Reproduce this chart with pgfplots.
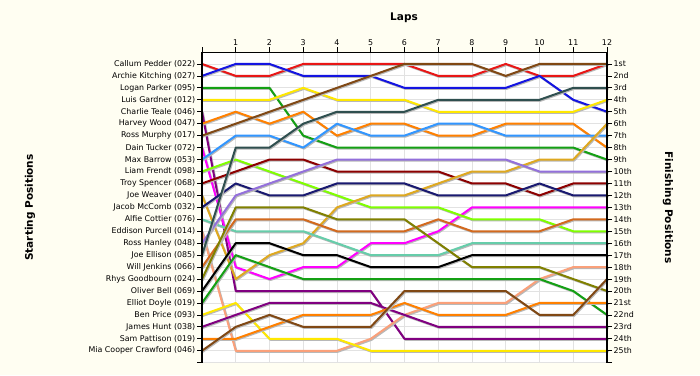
\documentclass[border=0pt]{standalone}
\usepackage{fontspec}
\setmainfont{DejaVu Sans}
\usepackage{pgfplots}
\pgfplotsset{compat=1.18}
\usepackage{pgfplotstable}

\definecolor{bgcream}{RGB}{255,254,242}
\definecolor{gridc}{RGB}{226,226,226}
\definecolor{cRed}{RGB}{232,22,22}
\definecolor{cBlue}{RGB}{20,20,225}
\definecolor{cGreen}{RGB}{20,160,20}
\definecolor{cYellow}{RGB}{255,232,0}
\definecolor{cPurple}{RGB}{128,0,128}
\definecolor{cOrange}{RGB}{255,128,0}
\definecolor{cBrown}{RGB}{128,72,20}
\definecolor{cMagenta}{RGB}{255,0,255}
\definecolor{cLBlue}{RGB}{50,150,255}
\definecolor{cLime}{RGB}{128,255,0}
\definecolor{cDRed}{RGB}{140,0,0}
\definecolor{cGold}{RGB}{222,168,32}
\definecolor{cNavy}{RGB}{25,25,112}
\definecolor{cAqua}{RGB}{102,205,170}
\definecolor{cSalmon}{RGB}{250,160,122}
\definecolor{cLPurple}{RGB}{147,112,219}
\definecolor{cSlate}{RGB}{47,79,79}
\definecolor{cChoc}{RGB}{210,105,30}
\definecolor{cOlive}{RGB}{128,128,0}

% positions per lap (rows) for each driver (columns, in starting order)
\pgfplotstableread{
lap d1 d2 d3 d4 d5 d6 d7 d8 d9 d10 d11 d12 d13 d14 d15 d16 d17 d18 d19 d20 d21 d22 d23 d24 d25
0  1 2 3 4 5  6 7 8  9 10 11 12 13 14 15 16 17 18 19 20 21 22 23 24 25
1  2 1 3 4 20 5 6 18 7 9  10 19 11 15 25 12 8  14 13 16 17 21 22 24 23
2  2 1 3 4 20 6 5 19 7 10 9  17 12 15 25 11 8  14 13 16 18 24 21 23 22
3  1 2 7 3 20 5 4 18 8 11 9  16 12 15 25 10 6  14 13 17 19 24 21 22 23
4  1 2 8 4 20 7 3 18 6 12 10 13 11 16 25 9  5  15 14 17 19 24 21 22 23
5  1 2 8 4 20 6 2 16 7 13 10 12 11 17 24 9  5  15 14 18 19 25 21 22 23
6  1 3 8 4 24 6 1 16 7 13 10 12 11 17 22 9  5  15 14 18 19 25 22 21 20
7  2 3 8 5 24 7 1 15 6 13 10 11 12 17 21 9  4  14 16 18 19 25 23 22 20
8  2 3 8 5 24 7 1 13 6 14 11 10 12 16 21 9  4  15 18 17 19 25 23 22 20
9  1 3 8 5 24 6 2 13 7 14 11 10 12 16 21 9  4  15 18 17 19 25 23 22 20
10 2 2 8 5 24 6 1 13 7 14 12 9  11 16 19 10 4  15 18 17 19 25 23 21 22
11 2 4 8 5 24 6 1 13 7 15 11 9  12 16 18 10 3  14 19 17 20 25 23 21 22
12 1 5 9 4 24 8 1 13 7 15 11 6  12 16 18 10 3  14 20 17 22 25 23 21 19
}\lapdata

\pgfplotsset{
  lapline/.style={line width=2pt, line join=round, line cap=round,
    preaction={draw=black!28, line width=2pt,
      transform canvas={xshift=0.9pt,yshift=-1pt}}},
}

\newcommand{\lblfont}{\fontsize{7.9}{9}\selectfont}
\newcommand{\ttlfont}{\fontsize{10.5}{12}\selectfont\bfseries}

\begin{document}
\begin{tikzpicture}[x=1pt,y=1pt]
\path[use as bounding box] (0,0) rectangle (700,375);
\fill[bgcream] (0,0) rectangle (700,375);
\begin{axis}[
  at={(202pt,12.3pt)}, anchor=south west,
  scale only axis, width=405pt, height=310.7pt,
  xmin=0, xmax=12, ymin=0, ymax=26, y dir=reverse,
  axis background/.style={fill=white},
  axis line style={draw=none},
  xtick={0,...,12}, xticklabels={,1,2,3,4,5,6,7,8,9,10,11,12},
  xtick pos=right, xticklabel pos=right,
  ytick={1,...,25},
  yticklabels={Callum Pedder (022),Archie Kitching (027),Logan Parker (095),Luis Gardner (012),Charlie Teale (046),Harvey Wood (047),Ross Murphy (017),Dain Tucker (072),Max Barrow (053),Liam Frendt (098),Troy Spencer (068),Joe Weaver (040),Jacob McComb (032),Alfie Cottier (076),Eddison Purcell (014),Ross Hanley (048),Joe Ellison (085),Will Jenkins (066),Rhys Goodbourn (024),Oliver Bell (069),Elliot Doyle (019),Ben Price (093),James Hunt (038),Sam Pattison (019),Mia Cooper Crawford (046)},
  extra y ticks={26}, extra y tick labels={},
  ytick pos=left, yticklabel pos=left,
  tick align=outside,
  major tick length=5pt,
  tick style={black, line width=0.8pt},
  xticklabel style={font=\lblfont, inner sep=1pt},
  yticklabel style={font=\lblfont, inner sep=1.5pt},
  grid=major, major grid style={draw=gridc, line width=0.9pt},
  clip=false,
]
\draw[black, line width=0.9pt] (axis cs:0,0) -- (axis cs:12,0);
\addplot[lapline, cRed]     table[x=lap,y=d1]  {\lapdata};
\addplot[lapline, cBlue]    table[x=lap,y=d2]  {\lapdata};
\addplot[lapline, cGreen]   table[x=lap,y=d3]  {\lapdata};
\addplot[lapline, cYellow]  table[x=lap,y=d4]  {\lapdata};
\addplot[lapline, cPurple]  table[x=lap,y=d5]  {\lapdata};
\addplot[lapline, cOrange]  table[x=lap,y=d6]  {\lapdata};
\addplot[lapline, cBrown]   table[x=lap,y=d7]  {\lapdata};
\addplot[lapline, cMagenta] table[x=lap,y=d8]  {\lapdata};
\addplot[lapline, cLBlue]   table[x=lap,y=d9]  {\lapdata};
\addplot[lapline, cLime]    table[x=lap,y=d10] {\lapdata};
\addplot[lapline, cDRed]    table[x=lap,y=d11] {\lapdata};
\addplot[lapline, cGold]    table[x=lap,y=d12] {\lapdata};
\addplot[lapline, cNavy]    table[x=lap,y=d13] {\lapdata};
\addplot[lapline, cAqua]    table[x=lap,y=d14] {\lapdata};
\addplot[lapline, cSalmon]  table[x=lap,y=d15] {\lapdata};
\addplot[lapline, cLPurple] table[x=lap,y=d16] {\lapdata};
\addplot[lapline, cSlate]   table[x=lap,y=d17] {\lapdata};
\addplot[lapline, cChoc]    table[x=lap,y=d18] {\lapdata};
\addplot[lapline, cOlive]   table[x=lap,y=d19] {\lapdata};
\addplot[lapline, black]    table[x=lap,y=d20] {\lapdata};
\addplot[lapline, cGreen]   table[x=lap,y=d21] {\lapdata};
\addplot[lapline, cYellow]  table[x=lap,y=d22] {\lapdata};
\addplot[lapline, cPurple]  table[x=lap,y=d23] {\lapdata};
\addplot[lapline, cOrange]  table[x=lap,y=d24] {\lapdata};
\addplot[lapline, cBrown]   table[x=lap,y=d25] {\lapdata};
\draw[black, line width=1.6pt] (axis cs:0,0) -- (axis cs:0,26);
\draw[black, line width=1.6pt] (axis cs:12,0) -- (axis cs:12,26);
\end{axis}
\begin{axis}[
  at={(202pt,12.3pt)}, anchor=south west,
  scale only axis, width=405pt, height=310.7pt,
  xmin=0, xmax=12, ymin=0, ymax=26, y dir=reverse,
  hide x axis,
  axis line style={draw=none},
  ytick={1,...,25},
  yticklabels={1st,2nd,3rd,4th,5th,6th,7th,8th,9th,10th,11th,12th,13th,14th,15th,16th,17th,18th,19th,20th,21st,22nd,23rd,24th,25th},
  extra y ticks={26}, extra y tick labels={},
  ytick pos=right, yticklabel pos=right,
  tick align=outside,
  major tick length=5pt,
  tick style={black, line width=0.8pt},
  yticklabel style={font=\lblfont, inner sep=1.5pt},
]
\addplot[draw=none] coordinates {(0,1)};
\end{axis}
\node[font=\ttlfont] at (404,357) {Laps};
\node[font=\ttlfont, rotate=90] at (30,167.5) {Starting Positions};
\node[font=\ttlfont, rotate=-90] at (668,167.5) {Finishing Positions};
\end{tikzpicture}
\end{document}
